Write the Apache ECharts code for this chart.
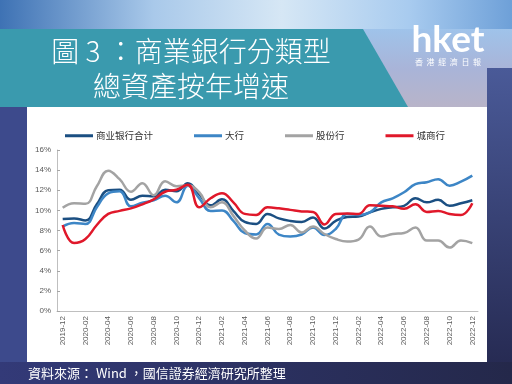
<!DOCTYPE html>
<html>
<head>
<meta charset="utf-8">
<script src="https://cdn.jsdelivr.net/npm/echarts@6/dist/echarts.min.js"></script>
<style>
html,body{margin:0;padding:0;background:#2a2f5c;}
#c{width:512px;height:384px;}
</style>
</head>
<body>
<div id="c"></div>
<script>
var months = ['2019-12','2020-01','2020-02','2020-03','2020-04','2020-05','2020-06','2020-07','2020-08','2020-09','2020-10','2020-11','2020-12',
'2021-01','2021-02','2021-03','2021-04','2021-05','2021-06','2021-07','2021-08','2021-09','2021-10','2021-11','2021-12',
'2022-01','2022-02','2022-03','2022-04','2022-05','2022-06','2022-07','2022-08','2022-09','2022-10','2022-11','2022-12'];
var seriesNames = ['商业银行合计','大行','股份行','城商行'];
var totalBanks = [9.15,9.2,9.0,10.6,12.0,12.05,11.05,11.45,11.4,12.05,11.9,12.7,11.6,10.5,11.1,9.95,8.85,8.65,9.65,9.2,8.95,8.85,9.3,8.2,8.95,9.35,9.4,9.8,10.15,10.3,10.45,11.2,10.8,11.05,10.45,10.7,11.0];
var bigBanks = [8.4,8.75,8.65,10.3,11.7,11.9,10.4,10.75,11.0,11.45,10.8,12.45,11.2,9.95,10.0,8.95,7.75,7.6,8.65,7.6,7.4,7.6,8.3,7.55,8.15,9.65,9.55,9.8,10.8,11.2,11.8,12.6,12.8,13.1,12.45,12.85,13.45];
var jointStock = [10.25,10.7,10.65,12.4,13.95,13.1,11.85,12.7,11.5,12.9,12.4,12.5,11.8,10.3,10.8,9.45,8.0,7.2,8.3,8.15,8.55,7.8,8.4,7.65,7.15,6.9,7.1,8.4,7.4,7.65,7.75,8.3,7.0,7.0,6.3,7.0,6.75];
var cityBanks = [8.55,6.75,7.15,8.55,9.65,9.95,10.2,10.6,11.1,11.85,12.05,12.55,10.3,11.2,11.7,10.8,9.65,9.55,10.3,10.2,10.05,9.9,9.85,8.6,9.65,9.7,9.65,10.5,10.45,10.4,10.15,10.6,9.85,9.95,9.65,9.55,10.7];
var colors = ['#1b4f82','#3d86c6','#a3a3a3','#e0182a'];

var chart = echarts.init(document.getElementById('c'));
var CJK = '"Noto Sans CJK TC","Noto Sans CJK SC",sans-serif';
var CJKSC = '"Noto Sans CJK SC",sans-serif';
function mk(name, data, color){
  return {name:name,type:'line',data:data,smooth:0.45,symbol:'none',
    lineStyle:{width:2.5,color:color},itemStyle:{color:color},z:5};
}
chart.setOption({
  animation:false,
  backgroundColor:'#2a2f5c',
  graphic:[
    {type:'rect',z:-10,shape:{x:0,y:0,width:512,height:384},style:{fill:new echarts.graphic.LinearGradient(0,0,0,1,[{offset:0,color:'#5d8fcc'},{offset:0.3,color:'#8eb4de'},{offset:0.5,color:'#3c4b8c'},{offset:1,color:'#2a2f5c'}])}},
    {type:'rect',z:-9,shape:{x:0,y:0,width:512,height:30},style:{fill:new echarts.graphic.LinearGradient(0,0,1,0,[{offset:0,color:'#3e72b4'},{offset:0.3,color:'#a9c9ea'},{offset:0.55,color:'#d6e7f5'},{offset:0.8,color:'#a8cbef'},{offset:1,color:'#6ea0d8'}])}},
    {type:'rect',z:-9,shape:{x:360,y:29,width:152,height:80},style:{fill:new echarts.graphic.LinearGradient(0,0,0,1,[{offset:0,color:'#9fc3ea'},{offset:0.5,color:'#a9b4d8'},{offset:1,color:'#b9b4c8'}])}},
    {type:'rect',z:-8,shape:{x:487,y:68,width:25,height:300},style:{fill:new echarts.graphic.LinearGradient(0,0,0,1,[{offset:0,color:'#4a5a98'},{offset:1,color:'#262a52'}])}},
    {type:'rect',z:-8,shape:{x:0,y:105,width:27,height:260},style:{fill:'#3d4a8c'}},
    {type:'rect',z:-8,shape:{x:0,y:362,width:512,height:22},style:{fill:new echarts.graphic.LinearGradient(0,0,1,0,[{offset:0,color:'#333a78'},{offset:1,color:'#24284a'}])}},
    {type:'polygon',z:-7,shape:{points:[[0,29],[363,29],[408,107],[0,107]]},style:{fill:'#3a9aae'}},
    {type:'rect',z:-6,shape:{x:27,y:107,width:460,height:255},style:{fill:'#ffffff'}},
    {type:'text',z:10,style:{text:'圖 3 ：商業銀行分類型',x:191,y:51,fill:'#ffffff',font:'300 28px '+CJK,textAlign:'center',textVerticalAlign:'middle'}},
    {type:'text',z:10,style:{text:'總資產按年增速',x:191,y:86,fill:'#ffffff',font:'300 28px '+CJK,textAlign:'center',textVerticalAlign:'middle'}},
    {type:'text',z:10,style:{text:'hket',x:448,y:40,fill:'#ffffff',font:'bold 37px Lato, "Open Sans", sans-serif',textAlign:'center',textVerticalAlign:'middle'}},
    {type:'text',z:10,style:{text:'香  港  經  濟  日  報',x:448,y:62,fill:'#ffffff',font:'8px '+CJK,textAlign:'center',textVerticalAlign:'middle'}},
    {type:'text',z:10,style:{text:'資料來源： Wind ，國信證券經濟研究所整理',x:28,y:373,fill:'#ffffff',font:'13px '+CJK,textAlign:'left',textVerticalAlign:'middle'}}
  ],
  legend:{
    data:seriesNames,left:60,top:126,itemGap:41,itemWidth:28,itemHeight:3,icon:'rect',
    textStyle:{fontSize:9.5,color:'#333333',fontFamily:CJKSC,padding:[0,0,0,-2]}
  },
  grid:{left:57,right:34,top:150,bottom:73},
  xAxis:{
    type:'category',data:months,boundaryGap:true,
    axisLine:{lineStyle:{color:'#bfbfbf',width:1}},
    axisTick:{interval:1,alignWithLabel:true,length:3,lineStyle:{color:'#a6a6a6'}},
    axisLabel:{interval:1,rotate:90,fontSize:8,color:'#595959',margin:5,fontFamily:'"Liberation Sans",Arial,sans-serif'}
  },
  yAxis:{
    type:'value',min:0,max:16,interval:2,
    axisLine:{show:true,lineStyle:{color:'#bfbfbf'}},
    axisTick:{show:true,inside:true,length:3,lineStyle:{color:'#a6a6a6'}},
    splitLine:{show:false},
    axisLabel:{formatter:'{value}%',fontSize:8,color:'#595959',margin:6,fontFamily:'"Liberation Sans",Arial,sans-serif'}
  },
  series:[
    mk(seriesNames[0],totalBanks,colors[0]),
    mk(seriesNames[1],bigBanks,colors[1]),
    mk(seriesNames[2],jointStock,colors[2]),
    mk(seriesNames[3],cityBanks,colors[3])
  ]
});
</script>
</body>
</html>
